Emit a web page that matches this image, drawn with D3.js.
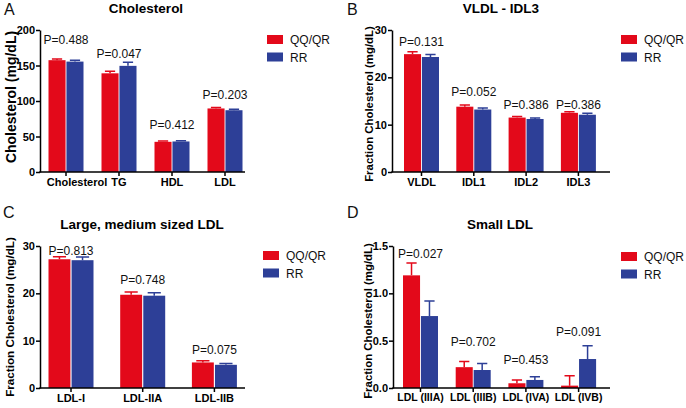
<!DOCTYPE html>
<html>
<head>
<meta charset="utf-8">
<script src="https://cdn.jsdelivr.net/npm/d3@7"></script>
<style>
  body { margin: 0; background: #fff; }
  svg { display: block; font-family: "Liberation Sans", Arial, sans-serif; }
</style>
</head>
<body>
<div id="chart"></div>
<script>
const groups = ["QQ/QR", "RR"];

// Panel A - Cholesterol
const catsA = ["Cholesterol", "TG", "HDL", "LDL"];
const redA = [157.5, 139, 42.5, 89.5];
const redErrA = [1.5, 3, 1, 1.5];
const blueA = [155.5, 149.5, 43, 87];
const blueErrA = [2, 5, 1, 1.5];
const pA = ["P=0.488", "P=0.047", "P=0.412", "P=0.203"];
const pAtA = [180, 160, 61, 103.5];
const ticksA = [0, 50, 100, 150, 200];

// Panel B - VLDL - IDL3
const catsB = ["VLDL", "IDL1", "IDL2", "IDL3"];
const redB = [24.9, 13.8, 11.5, 12.5];
const redErrB = [0.5, 0.35, 0.25, 0.25];
const blueB = [24.3, 13.2, 11.2, 12.1];
const blueErrB = [0.5, 0.3, 0.2, 0.3];
const pB = ["P=0.131", "P=0.052", "P=0.386", "P=0.386"];
const pAtB = [26.6, 16, 13.4, 13.4];
const ticksB = [0, 10, 20, 30];

// Panel C - Large, medium sized LDL
const catsC = ["LDL-I", "LDL-IIA", "LDL-IIB"];
const redC = [27.2, 19.7, 5.4];
const redErrC = [0.55, 0.6, 0.35];
const blueC = [27.0, 19.5, 4.9];
const blueErrC = [0.7, 0.6, 0.3];
const pC = ["P=0.813", "P=0.748", "P=0.075"];
const pAtC = [28.1, 21.9, 7.2];
const ticksC = [0, 10, 20, 30];

// Panel D - Small LDL
const catsD = ["LDL (IIIA)", "LDL (IIIB)", "LDL (IVA)", "LDL (IVB)"];
const redD = [1.19, 0.22, 0.05, 0.025];
const redErrD = [0.13, 0.06, 0.035, 0.105];
const blueD = [0.76, 0.19, 0.085, 0.306];
const blueErrD = [0.16, 0.07, 0.035, 0.14];
const pD = ["P=0.027", "P=0.702", "P=0.453", "P=0.091"];
const pAtD = [1.376, 0.44, 0.25, 0.55];
const ticksD = [0, 0.5, 1.0, 1.5];

const colors = { "QQ/QR": "#e3091a", "RR": "#2d3f97" };

const width = 686;
const height = 408;

const svg = d3.select("#chart").append("svg")
  .attr("width", width)
  .attr("height", height);

const panels = [
  { letter: "A", title: "Cholesterol", ytitle: "Cholesterol (mg/dL)", ytitleSize: 14,
    cats: catsA, red: redA, redErr: redErrA, blue: blueA, blueErr: blueErrA, p: pA, pAt: pAtA,
    ticks: ticksA, fmt: d3.format("d"), xFont: 11,
    left: 40, right: 245, top: 30, bottom: 172, first: 66, step: 53, group: 35,
    lx: 4, ly: 15, tx: 146, ty: 13, yx: 11, yy: 97, legX: 267, legY: 35 },
  { letter: "B", title: "VLDL - IDL3", ytitle: "Fraction Cholesterol (mg/dL)", ytitleSize: 11.4,
    cats: catsB, red: redB, redErr: redErrB, blue: blueB, blueErr: blueErrB, p: pB, pAt: pAtB,
    ticks: ticksB, fmt: d3.format("d"), xFont: 11,
    left: 392, right: 610, top: 30, bottom: 172, first: 421.5, step: 52.3, group: 35,
    lx: 347, ly: 15, tx: 501, ty: 13, yx: 369, yy: 104, legX: 621, legY: 35 },
  { letter: "C", title: "Large, medium sized LDL", ytitle: "Fraction Cholesterol (mg/dL)", ytitleSize: 11.7,
    cats: catsC, red: redC, redErr: redErrC, blue: blueC, blueErr: blueErrC, p: pC, pAt: pAtC,
    ticks: ticksC, fmt: d3.format("d"), xFont: 11,
    left: 40, right: 245, top: 246, bottom: 388, first: 71, step: 71.7, group: 45,
    lx: 3, ly: 218, tx: 142, ty: 229, yx: 10, yy: 317, legX: 263, legY: 251 },
  { letter: "D", title: "Small LDL", ytitle: "Fraction Cholesterol (mg/dL)", ytitleSize: 11.4,
    cats: catsD, red: redD, redErr: redErrD, blue: blueD, blueErr: blueErrD, p: pD, pAt: pAtD,
    ticks: ticksD, fmt: d3.format(".1f"), xFont: 10.5,
    left: 393, right: 610, top: 246, bottom: 388, first: 420.5, step: 52.7, group: 35,
    lx: 347, ly: 218, tx: 500, ty: 229, yx: 368, yy: 321, legX: 621, legY: 252 }
];

panels.forEach(function (pn) {
  const g = svg.append("g");
  const n = pn.cats.length;
  const pad = 1 - pn.group / pn.step;

  const x = d3.scaleBand()
    .domain(pn.cats)
    .range([pn.first - pn.step / 2, pn.first - pn.step / 2 + n * pn.step])
    .paddingInner(pad)
    .paddingOuter(pad / 2);

  const xs = d3.scaleBand()
    .domain(groups)
    .range([0, x.bandwidth()])
    .paddingInner(0.05);

  const y = d3.scaleLinear()
    .domain([pn.ticks[0], pn.ticks[pn.ticks.length - 1]])
    .range([pn.bottom, pn.top]);

  const rows = pn.cats.map((c, i) => ({
    cat: c,
    vals: [
      { key: "QQ/QR", v: pn.red[i], e: pn.redErr[i] },
      { key: "RR", v: pn.blue[i], e: pn.blueErr[i] }
    ]
  }));

  const cg = g.selectAll(".cat")
    .data(rows)
    .enter()
    .append("g")
    .attr("transform", d => `translate(${x(d.cat)},0)`);

  // error bars (upper whisker only)
  cg.selectAll(".err")
    .data(d => d.vals)
    .enter()
    .append("path")
    .attr("fill", "none")
    .attr("stroke", d => colors[d.key])
    .attr("stroke-width", 1.5)
    .attr("d", function (d) {
      const cx = xs(d.key) + xs.bandwidth() / 2;
      const hw = xs.bandwidth() * 0.3;
      return `M${cx},${y(d.v)}V${y(d.v + d.e)}M${cx - hw},${y(d.v + d.e)}H${cx + hw}`;
    });

  cg.selectAll("rect")
    .data(d => d.vals)
    .enter()
    .append("rect")
    .attr("x", d => xs(d.key))
    .attr("width", xs.bandwidth())
    .attr("y", d => y(d.v))
    .attr("height", d => y(0) - y(d.v))
    .attr("fill", d => colors[d.key]);

  // y axis
  const ya = g.append("g")
    .attr("transform", `translate(${pn.left},0)`)
    .call(d3.axisLeft(y).tickValues(pn.ticks).tickFormat(pn.fmt).tickSize(4).tickSizeOuter(0).tickPadding(1));
  ya.select(".domain").attr("stroke", "#000").attr("stroke-width", 1.5);
  ya.selectAll(".tick line").attr("stroke", "#000").attr("stroke-width", 1.5);
  ya.selectAll(".tick text")
    .attr("font-size", 11)
    .attr("font-weight", "bold")
    .attr("font-family", "Liberation Sans, Arial, sans-serif")
    .attr("fill", "#000");

  // x axis
  const xa = g.append("g")
    .attr("transform", `translate(0,${pn.bottom})`)
    .call(d3.axisBottom(x).tickSize(4).tickSizeOuter(0).tickPadding(2));
  xa.select(".domain").remove();
  xa.selectAll(".tick line").attr("stroke", "#000").attr("stroke-width", 1.5);
  xa.selectAll(".tick text")
    .attr("font-size", pn.xFont)
    .attr("font-weight", "bold")
    .attr("font-family", "Liberation Sans, Arial, sans-serif")
    .attr("fill", "#000");
  if (pn.letter === "A") {
    // the long first label sits a little right of its tick in the original
    xa.selectAll(".tick text").filter(d => d === "Cholesterol").attr("x", 11);
  }
  g.append("line")
    .attr("x1", pn.left - 0.75)
    .attr("x2", pn.right)
    .attr("y1", pn.bottom)
    .attr("y2", pn.bottom)
    .attr("stroke", "#000")
    .attr("stroke-width", 1.5);

  // p values
  g.selectAll(".pval")
    .data(rows)
    .enter()
    .append("text")
    .attr("x", d => x(d.cat) + x.bandwidth() / 2)
    .attr("y", (d, i) => y(pn.pAt[i]))
    .attr("text-anchor", "middle")
    .attr("font-size", 12)
    .attr("fill", "#111")
    .text((d, i) => pn.p[i]);

  // titles
  g.append("text")
    .attr("x", pn.tx)
    .attr("y", pn.ty)
    .attr("text-anchor", "middle")
    .attr("font-size", 13.5)
    .attr("font-weight", "bold")
    .attr("fill", "#000")
    .text(pn.title);

  g.append("text")
    .attr("x", pn.lx)
    .attr("y", pn.ly)
    .attr("font-size", 16)
    .attr("fill", "#111")
    .text(pn.letter);

  g.append("text")
    .attr("transform", `translate(${pn.yx},${pn.yy}) rotate(-90)`)
    .attr("text-anchor", "middle")
    .attr("dy", "0.35em")
    .attr("font-size", pn.ytitleSize)
    .attr("font-weight", "bold")
    .attr("fill", "#000")
    .text(pn.ytitle);

  // legend
  const leg = g.append("g").attr("transform", `translate(${pn.legX},${pn.legY})`);
  leg.selectAll("rect")
    .data(groups)
    .enter()
    .append("rect")
    .attr("x", 0)
    .attr("y", (d, i) => i * 17.5)
    .attr("width", 16)
    .attr("height", 9)
    .attr("fill", d => colors[d]);
  leg.selectAll("text")
    .data(groups)
    .enter()
    .append("text")
    .attr("x", 23)
    .attr("y", (d, i) => i * 17.5 + 9)
    .attr("font-size", 12)
    .attr("fill", "#111")
    .text(d => d);
});
</script>
</body>
</html>
